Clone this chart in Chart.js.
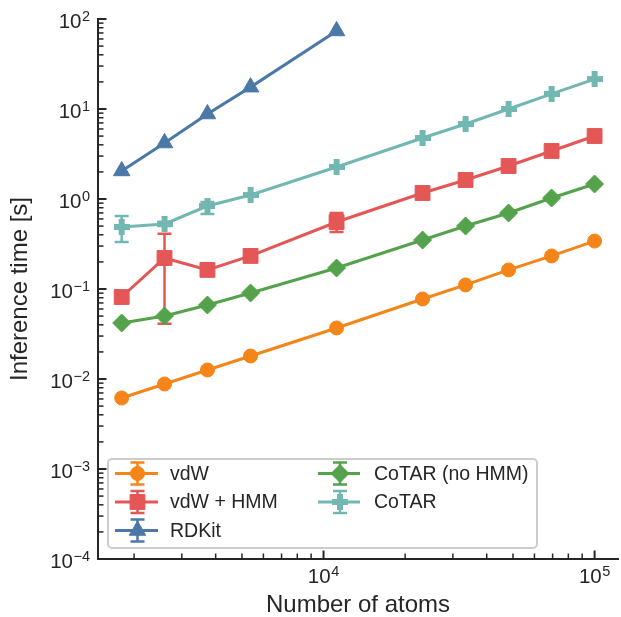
<!DOCTYPE html>
<html><head><meta charset="utf-8">
<script src="https://cdn.jsdelivr.net/npm/chart.js@4.4.1/dist/chart.umd.min.js"></script>
<style>html,body{margin:0;padding:0;background:#fff;} canvas{display:block;}</style>
</head><body>
<canvas id="c" width="621" height="617"></canvas>
<script>
// ---- data ----
const numAtoms   = [1800, 2590, 3730, 5380, 11170, 23190, 33420, 48160, 69400, 100000];
const vdW        = [0.00615, 0.0088, 0.0126, 0.018, 0.0369, 0.0774, 0.111, 0.163, 0.233, 0.341];
const vdWHMM     = [0.0815, 0.221, 0.163, 0.233, 0.555, 1.166, 1.626, 2.326, 3.415, 5.01];
const rdkit      = [2.05, 4.19, 8.8, 17.5, 73.6];
const cotarNoHMM = [0.0419, 0.0501, 0.0664, 0.0903, 0.171, 0.350, 0.501, 0.699, 1.026, 1.468];
const cotar      = [0.489, 0.528, 0.836, 1.107, 2.27, 4.76, 6.81, 10.0, 14.7, 21.5];
const vdWHMMErrLow  = [null, 0.041, null, null, 0.43, null, null, null, null, null];
const vdWHMMErrHigh = [null, 0.41,  null, null, 0.70, null, null, null, null, null];
const cotarErrLow   = [0.333, 0.50, 0.681, null, null, null, null, null, null, null];
const cotarErrHigh  = [0.647, 0.56, 0.926, null, null, null, null, null, null, null];
const seriesNames = ['vdW', 'vdW + HMM', 'RDKit', 'CoTAR (no HMM)', 'CoTAR'];
const yMajorTicks = [1e-4, 1e-3, 1e-2, 1e-1, 1e0, 1e1, 1e2];
const yTickExps   = ['\u22124', '\u22123', '\u22122', '\u22121', '0', '1', '2'];
const xMajorTicks = [1e4, 1e5];
const xTickExps   = ['4', '5'];
const xMinorTicks = [2e3,3e3,4e3,5e3,6e3,7e3,8e3,9e3,2e4,3e4,4e4,5e4,6e4,7e4,8e4,9e4];
const yMinorMult  = [2,3,4,5,6,7,8,9];

// ---- styles ----
const FONT = '"Liberation Sans", Arial, Helvetica, sans-serif';
const TXT = '#262626';
const colors = ['#f58518', '#e45756', '#4c78a8', '#54a24b', '#72b7b2'];

function plusCanvas(color, S, T) {
  const c = document.createElement('canvas'); c.width = S; c.height = S;
  const g = c.getContext('2d'); g.fillStyle = color;
  const a = (S - T) / 2;
  g.fillRect(a, 0, T, S); g.fillRect(0, a, S, T);
  return c;
}
const plusImg = plusCanvas(colors[4], 16, 6);
const markers = [
  {style: 'circle', r: 7},
  {style: 'rect', r: 10.5},
  {style: 'triangle', r: 9.5},
  {style: 'rectRot', r: 9},
  {style: plusImg, r: 8}
];
const errs = [null, [vdWHMMErrLow, vdWHMMErrHigh], null, null, [cotarErrLow, cotarErrHigh]];
const seriesY = [vdW, vdWHMM, rdkit, cotarNoHMM, cotar];

const datasets = seriesY.map((ys, i) => ({
  label: seriesNames[i],
  data: ys.map((y, j) => ({x: numAtoms[j], y: y})),
  borderColor: colors[i],
  backgroundColor: colors[i],
  borderWidth: 3,
  tension: 0,
  pointStyle: markers[i].style,
  pointRadius: markers[i].r,
  pointHoverRadius: markers[i].r,
  pointBorderWidth: 1,
  pointBorderColor: colors[i],
  pointBackgroundColor: colors[i],
  order: 5 - i,
  clip: false
}));

function drawErr(ctx, x, yLo, yHi, color) {
  ctx.save();
  ctx.strokeStyle = color; ctx.lineWidth = 2.5; ctx.lineCap = 'butt';
  ctx.beginPath();
  ctx.moveTo(x, yLo); ctx.lineTo(x, yHi);
  ctx.moveTo(x - 7, yLo); ctx.lineTo(x + 7, yLo);
  ctx.moveTo(x - 7, yHi); ctx.lineTo(x + 7, yHi);
  ctx.stroke();
  ctx.restore();
}

function drawMarker(ctx, style, x, y, r, color) {
  ctx.save();
  ctx.fillStyle = color; ctx.strokeStyle = color; ctx.lineWidth = 1;
  if (typeof style !== 'string') {
    ctx.drawImage(style, x - style.width / 2, y - style.height / 2);
    ctx.restore(); return;
  }
  ctx.beginPath();
  if (style === 'circle') ctx.arc(x, y, r, 0, Math.PI * 2);
  else if (style === 'rect') { const s = r * Math.SQRT1_2; ctx.rect(x - s, y - s, 2 * s, 2 * s); }
  else if (style === 'triangle') {
    for (let k = 0; k < 3; k++) {
      const a = k * 2 * Math.PI / 3;
      const px = x + Math.sin(a) * r, py = y - Math.cos(a) * r;
      if (k === 0) ctx.moveTo(px, py); else ctx.lineTo(px, py);
    }
    ctx.closePath();
  } else if (style === 'rectRot') {
    ctx.moveTo(x - r, y); ctx.lineTo(x, y - r); ctx.lineTo(x + r, y); ctx.lineTo(x, y + r); ctx.closePath();
  }
  ctx.fill(); ctx.stroke();
  ctx.restore();
}

const errorBarPlugin = {
  id: 'errorBars',
  beforeDatasetDraw(chart, args) {
    const i = args.index;
    const e = errs[i];
    if (!e) return;
    const xs = chart.scales.x, ys = chart.scales.y;
    const ctx = chart.ctx;
    for (let j = 0; j < numAtoms.length; j++) {
      if (e[0][j] == null) continue;
      drawErr(ctx, xs.getPixelForValue(numAtoms[j]), ys.getPixelForValue(e[0][j]), ys.getPixelForValue(e[1][j]), colors[i]);
    }
  }
};

const axisPlugin = {
  id: 'axisDecor',
  afterDraw(chart) {
    const ctx = chart.ctx;
    const xs = chart.scales.x, ys = chart.scales.y;
    const ca = chart.chartArea;
    ctx.save();
    ctx.strokeStyle = TXT;
    // y ticks (inward)
    yMajorTicks.forEach((v, k) => {
      const py = ys.getPixelForValue(v);
      ctx.lineWidth = 2;
      ctx.beginPath(); ctx.moveTo(ca.left, py); ctx.lineTo(ca.left + 8.5, py); ctx.stroke();
      if (k < yMajorTicks.length - 1) {
        yMinorMult.forEach(m => {
          const pm = ys.getPixelForValue(v * m);
          ctx.lineWidth = 1.5;
          ctx.beginPath(); ctx.moveTo(ca.left, pm); ctx.lineTo(ca.left + 5.5, pm); ctx.stroke();
        });
      }
    });
    // x ticks (inward)
    xMajorTicks.forEach(v => {
      const px = xs.getPixelForValue(v);
      ctx.lineWidth = 2;
      ctx.beginPath(); ctx.moveTo(px, ca.bottom); ctx.lineTo(px, ca.bottom - 8.5); ctx.stroke();
    });
    xMinorTicks.forEach(v => {
      const px = xs.getPixelForValue(v);
      ctx.lineWidth = 1.5;
      ctx.beginPath(); ctx.moveTo(px, ca.bottom); ctx.lineTo(px, ca.bottom - 5.5); ctx.stroke();
    });
    // labels
    const mainF = '20.5px ' + FONT, expF = '14.5px ' + FONT;
    ctx.fillStyle = TXT; ctx.textAlign = 'left'; ctx.textBaseline = 'alphabetic';
    yMajorTicks.forEach((v, k) => {
      const py = ys.getPixelForValue(v);
      ctx.font = expF; const we = ctx.measureText(yTickExps[k]).width;
      const xe = ca.left - 8 - we;
      ctx.fillText(yTickExps[k], xe, py + 2);
      ctx.font = mainF; const wm = ctx.measureText('10').width;
      ctx.fillText('10', xe - wm - 0.5, py + 9);
    });
    xMajorTicks.forEach((v, k) => {
      const px = xs.getPixelForValue(v);
      ctx.font = expF; const we = ctx.measureText(xTickExps[k]).width;
      ctx.font = mainF; const wm = ctx.measureText('10').width;
      const x0 = px - (wm + we + 0.5) / 2;
      ctx.fillText('10', x0, ca.bottom + 24);
      ctx.font = expF; ctx.fillText(xTickExps[k], x0 + wm + 0.5, ca.bottom + 17);
    });
    // legend
    const bx = 108, by = 459, bw = 429, bh = 89, rr = 4;
    ctx.beginPath();
    ctx.moveTo(bx + rr, by); ctx.lineTo(bx + bw - rr, by); ctx.arcTo(bx + bw, by, bx + bw, by + rr, rr);
    ctx.lineTo(bx + bw, by + bh - rr); ctx.arcTo(bx + bw, by + bh, bx + bw - rr, by + bh, rr);
    ctx.lineTo(bx + rr, by + bh); ctx.arcTo(bx, by + bh, bx, by + bh - rr, rr);
    ctx.lineTo(bx, by + rr); ctx.arcTo(bx, by, bx + rr, by, rr); ctx.closePath();
    ctx.fillStyle = 'rgba(255,255,255,0.8)'; ctx.fill();
    ctx.strokeStyle = '#cccccc'; ctx.lineWidth = 2; ctx.stroke();
    const cols = [{x1: 115, x2: 158, xt: 170}, {x1: 318, x2: 360, xt: 374}];
    const place = [[0, 0], [0, 1], [0, 2], [1, 0], [1, 1]];
    ctx.font = '19.5px ' + FONT; ctx.textBaseline = 'middle';
    seriesNames.forEach((name, i) => {
      const c = cols[place[i][0]], yy = 473.5 + place[i][1] * 28.5;
      const xc = (c.x1 + c.x2) / 2 + 1;
      ctx.strokeStyle = colors[i]; ctx.lineWidth = 3;
      ctx.beginPath(); ctx.moveTo(c.x1, yy); ctx.lineTo(c.x2, yy); ctx.stroke();
      drawErr(ctx, xc, yy + 11, yy - 11, colors[i]);
      drawMarker(ctx, markers[i].style, xc, yy, markers[i].r, colors[i]);
      ctx.fillStyle = TXT;
      ctx.fillText(name, c.xt, yy + 1);
    });
    ctx.restore();
  }
};

new Chart(document.getElementById('c'), {
  type: 'line',
  data: {datasets: datasets},
  options: {
    responsive: false,
    animation: false,
    devicePixelRatio: 1,
    layout: {autoPadding: false, padding: {top: 19, right: 3, left: 0, bottom: 0}},
    plugins: {legend: {display: false}, tooltip: {enabled: false}},
    scales: {
      x: {
        type: 'logarithmic', min: 1472, max: 122000,
        grid: {display: false, drawTicks: false},
        border: {display: true, color: TXT, width: 2},
        ticks: {display: false},
        title: {display: true, text: 'Number of atoms', color: TXT,
                font: {family: FONT, size: 24, lineHeight: 1}, padding: {top: 0, bottom: 0}},
        afterFit: s => { s.height = 58; }
      },
      y: {
        type: 'logarithmic', min: 1e-4, max: 1e2,
        grid: {display: false, drawTicks: false},
        border: {display: true, color: TXT, width: 2},
        ticks: {display: false},
        title: {display: true, text: 'Inference time [s]', color: TXT,
                font: {family: FONT, size: 24, lineHeight: 1}, padding: {top: 8, bottom: 0}},
        afterFit: s => { s.width = 98; }
      }
    }
  },
  plugins: [errorBarPlugin, axisPlugin]
});
</script>
</body></html>
